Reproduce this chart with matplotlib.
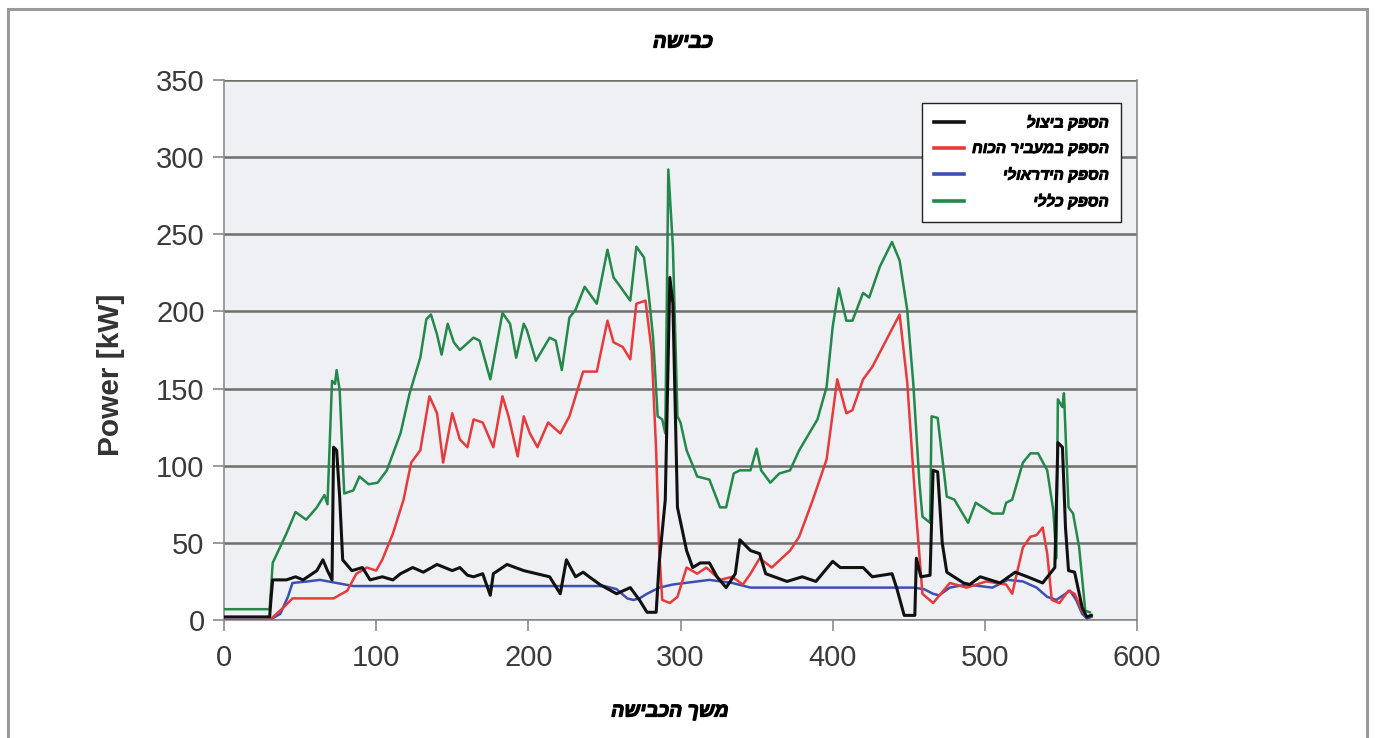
import numpy as np
import matplotlib.pyplot as plt
import matplotlib.patheffects as pe
from matplotlib.patches import Rectangle

# matplotlib lays text out left to right, so Hebrew strings are flipped for display
def rtl(s):
    return s[::-1]

title = 'כבישה'
xlabel = 'משך הכבישה'
ylabel = 'Power [kW]'
names = ['הספק ביצול', 'הספק במעביר הכוח', 'הספק הידראולי', 'הספק כללי']

# black - extrusion power
x_blk = [0, 30, 31, 32, 41, 47, 52, 61, 65, 68, 71, 72, 74, 76, 78, 84, 91, 96, 104, 111,
         116, 124, 131, 140, 150, 155, 160, 164, 170, 175, 177, 186, 197, 214, 221, 225, 231, 236, 240, 247,
         258, 267, 273, 278, 284, 286, 290, 293, 295, 298, 304, 308, 313, 319, 324, 330, 336, 339, 346, 352,
         356, 370, 380, 389, 400, 405, 420, 426, 439, 442, 447, 454, 455, 458, 464, 466, 469, 472, 475, 486,
         490, 497, 510, 520, 528, 538, 546, 548, 551, 553, 555, 559, 564, 567, 570]
y_blk = [2, 2, 15, 26, 26, 28, 26, 32, 39, 32, 26, 112, 110, 80, 39, 32, 34, 26, 28, 26,
         30, 34, 31, 36, 32, 34, 29, 28, 30, 16, 30, 36, 32, 28, 17, 39, 28, 31, 28, 23,
         17, 21, 13, 5, 5, 37, 78, 222, 205, 73, 45, 34, 37, 37, 28, 21, 30, 52, 45, 43,
         30, 25, 28, 25, 38, 34, 34, 28, 30, 21, 3, 3, 40, 28, 29, 97, 96, 50, 31, 24,
         23, 28, 24, 31, 28, 24, 34, 115, 112, 60, 32, 31, 8, 2, 3]

# red - power in transmission
x_red = [0, 30, 39, 45, 72, 81, 87, 94, 100, 104, 111, 118, 123, 129, 135, 140, 144, 150, 155, 160,
         164, 170, 177, 183, 187, 193, 197, 201, 206, 213, 221, 227, 236, 245, 252, 256, 262, 267, 271, 277,
         281, 284, 286, 288, 293, 298, 304, 311, 317, 326, 334, 341, 346, 352, 360, 372, 378, 387, 396, 403,
         409, 413, 420, 426, 435, 444, 449, 455, 459, 466, 477, 488, 501, 514, 518, 521, 525, 530, 534, 538,
         541, 544, 549, 555, 559, 564, 567, 570]
y_red = [0, 0, 8, 14, 14, 19, 30, 34, 32, 39, 56, 78, 102, 110, 145, 134, 102, 134, 117, 112,
         130, 128, 112, 145, 132, 106, 132, 121, 112, 128, 121, 132, 161, 161, 194, 180, 177, 169, 205, 207,
         175, 110, 45, 13, 11, 15, 34, 30, 34, 26, 28, 23, 30, 40, 34, 45, 54, 78, 104, 156,
         134, 136, 156, 164, 181, 198, 154, 67, 17, 11, 24, 21, 25, 23, 17, 30, 47, 54, 55, 60,
         43, 13, 11, 19, 17, 6, 2, 3]

# blue - hydraulic power
x_blu = [0, 30, 37, 42, 45, 55, 63, 74, 85, 100, 150, 200, 250, 258, 265, 269, 273, 278, 286, 295,
         319, 334, 346, 400, 453, 460, 466, 470, 477, 488, 505, 515, 525, 534, 541, 547, 556, 560, 564, 567,
         570]
y_blu = [0, 0, 4, 15, 24, 25, 26, 24, 22, 22, 22, 22, 22, 20, 14, 13, 14, 17, 21, 23,
         26, 24, 21, 21, 21, 20, 17, 16, 21, 23, 21, 26, 25, 21, 15, 13, 19, 13, 4, 1,
         2]

# green - total power
x_grn = [0, 30, 32, 41, 47, 54, 61, 66, 68, 71, 73, 74, 76, 79, 85, 89, 95, 101, 107, 116,
         122, 129, 133, 136, 140, 143, 147, 151, 155, 164, 168, 175, 183, 188, 192, 197, 199, 205, 214, 218,
         222, 227, 231, 237, 245, 252, 256, 259, 267, 271, 276, 279, 282, 285, 288, 290, 292, 295, 298, 300,
         304, 311, 319, 326, 330, 335, 339, 346, 350, 353, 359, 365, 372, 378, 390, 396, 400, 404, 409, 413,
         420, 424, 431, 439, 444, 449, 453, 457, 459, 464, 465, 469, 475, 480, 489, 494, 505, 512, 514, 518,
         525, 530, 535, 541, 545, 547, 548, 551, 552, 555, 558, 562, 566, 569]
y_grn = [7, 7, 37, 56, 70, 65, 73, 81, 75, 155, 153, 162, 149, 82, 84, 93, 88, 89, 97, 121,
         147, 170, 195, 198, 185, 172, 192, 180, 175, 183, 181, 156, 199, 192, 170, 192, 188, 168, 183, 181,
         162, 196, 201, 216, 205, 240, 222, 218, 207, 242, 235, 212, 183, 132, 130, 121, 292, 242, 132, 128,
         110, 93, 91, 73, 73, 95, 97, 97, 111, 97, 89, 95, 97, 110, 130, 151, 190, 215, 194, 194,
         212, 209, 229, 245, 233, 201, 153, 89, 67, 63, 132, 131, 80, 78, 63, 76, 69, 69, 76, 78,
         102, 108, 108, 97, 71, 40, 143, 138, 147, 73, 69, 47, 6, 5]

plt.rcParams['font.family'] = ['Liberation Sans', 'DejaVu Sans']
heb = {'family': ['Liberation Sans', 'DejaVu Sans'], 'weight': 'bold', 'style': 'italic'}
thick = [pe.withStroke(linewidth=0.9, foreground='black')]  # heavier Hebrew lettering

fig = plt.figure(figsize=(13.75, 7.38), dpi=100)
ax = fig.add_axes([224/1375, 1 - 620/738, (1137-224)/1375, (620-80)/738])
ax.set_facecolor('#eff0f4')

# outer frame of the picture
fig.patches.append(Rectangle((8/1375, -0.02), (1367-8)/1375, 1.02 - 9/738,
                             transform=fig.transFigure, fill=False,
                             edgecolor='#9a9a9a', linewidth=2.2))

ax.plot(x_blu, y_blu, color='#3d4fb0', lw=1.8, label=rtl(names[2]), zorder=3)
ax.plot(x_red, y_red, color='#e8393b', lw=1.8, label=rtl(names[1]), zorder=4)
ax.plot(x_grn, y_grn, color='#23884a', lw=1.8, label=rtl(names[3]), zorder=5)
ax.plot(x_blk, y_blk, color='#111111', lw=2.2, label=rtl(names[0]), zorder=6)

ax.set_xlim(0, 600)
ax.set_ylim(0, 350)
ax.set_xticks(np.arange(0, 601, 100))
ax.set_yticks(np.arange(0, 351, 50))
ax.yaxis.grid(True, color='#6e6e6e', lw=1.8)
ax.set_axisbelow(True)
for s in ['left', 'bottom', 'right']:
    ax.spines[s].set_color('#8a8a8a')
    ax.spines[s].set_linewidth(1.2)
ax.spines['top'].set_visible(False)
ax.tick_params(axis='both', direction='out', length=8, width=1.2, color='#8a8a8a',
               labelsize=21, labelcolor='#3a3a3a')
ax.tick_params(axis='x', pad=9)
ax.tick_params(axis='y', pad=6)

ax.set_ylabel(ylabel, fontsize=21.5, fontweight='bold', color='#333333')
ax.yaxis.set_label_coords(-0.108, 0.454)
fig.text(683/1375, 1 - 42/738, rtl(title), ha='center', va='center', fontsize=14.5,
         path_effects=thick, **heb)
fig.text(670/1375, 1 - 712/738, rtl(xlabel), ha='center', va='center', fontsize=14,
         path_effects=thick, **heb)

h, l = ax.get_legend_handles_labels()
order = [3, 1, 0, 2]
leg = ax.legend([h[i] for i in order], [l[i] for i in order],
                loc='upper right', bbox_to_anchor=((1121-224)/913, (620-103)/540),
                prop={'size': 11, 'weight': 'bold', 'style': 'italic',
                      'family': ['Liberation Sans', 'DejaVu Sans']},
                fancybox=False, framealpha=1, edgecolor='#222222',
                handlelength=2.0, handletextpad=0.5, labelspacing=0.75,
                borderpad=0.8, borderaxespad=0)
leg.get_frame().set_linewidth(1.0)
leg.set_zorder(10)
for t in leg.get_texts():
    t.set_path_effects([pe.withStroke(linewidth=0.7, foreground='black')])
for ln in leg.get_lines():
    ln.set_linewidth(2.6)

# right-align the labels inside the legend, as in a right-to-left layout
fig.canvas.draw()
texts = leg.get_texts()
widths = [t.get_window_extent().width for t in texts]
for t, w in zip(texts, widths):
    t.set_x(max(widths) - w)

plt.savefig('out.png', dpi=100)
